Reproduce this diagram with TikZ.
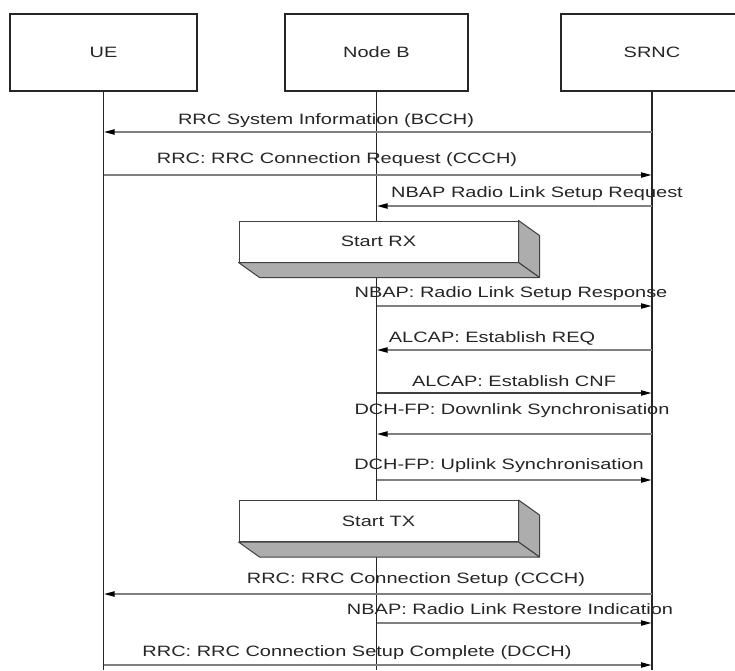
\documentclass[tikz,border=0pt]{standalone}
\usepackage{fontspec}
\setmainfont{Liberation Sans}[FakeStretch=1.33]
\usetikzlibrary{arrows.meta}

\begin{document}
\begin{tikzpicture}[x=1pt,y=-1pt,
  txt/.style={font=\fontsize{15}{18}\selectfont,text=black!85},
  actor/.style={txt,draw=black!85,line width=1.3pt,minimum height=77pt,inner sep=0pt},
  life/.style={draw=black!85,line width=1.3pt},
  msg/.style={draw=black!50,line width=2pt,
    -{Triangle[length=11pt,width=5pt,color=black]}},
  lbl/.style={txt,inner sep=0pt},
  face/.style={txt,fill=white,draw=black!75,line width=1pt,inner sep=0pt,
    minimum width=279pt,minimum height=41pt},
  side/.style={fill=black!32,draw=black!75,line width=1pt,line join=round}]

\useasboundingbox (0,0) rectangle (735,670);
\clip (0,0) rectangle (735,670);
\fill[white] (0,0) rectangle (735,670);

% participants
\node[actor,minimum width=187pt] (ue)    at (103.5,52.5) {UE};
\node[actor,minimum width=183pt] (nodeb) at (376.5,52.5) {Node B};
\node[actor,minimum width=182pt] (srnc)  at (652,52.5)   {SRNC};

% lifelines
\coordinate (ueEnd)    at (ue.south    |- 0,670);
\coordinate (nodebEnd) at (nodeb.south |- 0,670);
\coordinate (srncEnd)  at (srnc.south  |- 0,670);
\draw[life] (ue.south)    -- (ueEnd);
\draw[life] (nodeb.south) -- (nodebEnd);
\draw[life] (srnc.south)  -- (srncEnd);

% processing blocks on Node B
\node[face] (rx) at (378.5,241.5) {Start RX};
\filldraw[side] (rx.north east) -- ([shift={(21,15)}]rx.north east)
  -- ([shift={(21,15)}]rx.south east) -- (rx.south east) -- cycle;
\filldraw[side] (rx.south west) -- (rx.south east)
  -- ([shift={(21,15)}]rx.south east) -- ([shift={(21,15)}]rx.south west) -- cycle;

\node[face] (tx) at (378.5,521) {Start TX};
\filldraw[side] (tx.north east) -- ([shift={(21,15)}]tx.north east)
  -- ([shift={(21,15)}]tx.south east) -- (tx.south east) -- cycle;
\filldraw[side] (tx.south west) -- (tx.south east)
  -- ([shift={(21,15)}]tx.south east) -- ([shift={(21,15)}]tx.south west) -- cycle;

% messages
\draw[msg] (srnc.south |- 0,132) -- (ue.south |- 0,132);
\node[lbl] (l1) at (326,121) {RRC System Information (BCCH)};

\draw[msg] (ue.south |- 0,175) -- (srnc.south |- 0,175);
\node[lbl] (l2) at (337,160) {RRC: RRC Connection Request (CCCH)};

\draw[msg] (srnc.south |- 0,206) -- (nodeb.south |- 0,206);
\node[lbl] (l3) at (537,194) {NBAP Radio Link Setup Request};

\draw[msg] (nodeb.south |- 0,306) -- (srnc.south |- 0,306);
\node[lbl] (l4) at (511,294) {NBAP: Radio Link Setup Response};

\draw[msg] (srnc.south |- 0,350) -- (nodeb.south |- 0,350);
\node[lbl] (l5) at (492,338) {ALCAP: Establish REQ};

\draw[msg,draw=black!75] (nodeb.south |- 0,393) -- (srnc.south |- 0,393);
\node[lbl] (l6) at (514,381) {ALCAP: Establish CNF};

\draw[msg] (srnc.south |- 0,434) -- (nodeb.south |- 0,434);
\node[lbl] (l7) at (512,411) {DCH-FP: Downlink Synchronisation};

\draw[msg] (nodeb.south |- 0,480) -- (srnc.south |- 0,480);
\node[lbl] (l8) at (499,466) {DCH-FP: Uplink Synchronisation};

\draw[msg] (srnc.south |- 0,594) -- (ue.south |- 0,594);
\node[lbl] (l9) at (416,580) {RRC: RRC Connection Setup (CCCH)};

\draw[msg] (nodeb.south |- 0,623) -- (srnc.south |- 0,623);
\node[lbl] (l10) at (510,609) {NBAP: Radio Link Restore Indication};

\draw[msg] (ue.south |- 0,665) -- (srnc.south |- 0,665);
\node[lbl] (l11) at (357,653) {RRC: RRC Connection Setup Complete (DCCH)};

\end{tikzpicture}
\end{document}
